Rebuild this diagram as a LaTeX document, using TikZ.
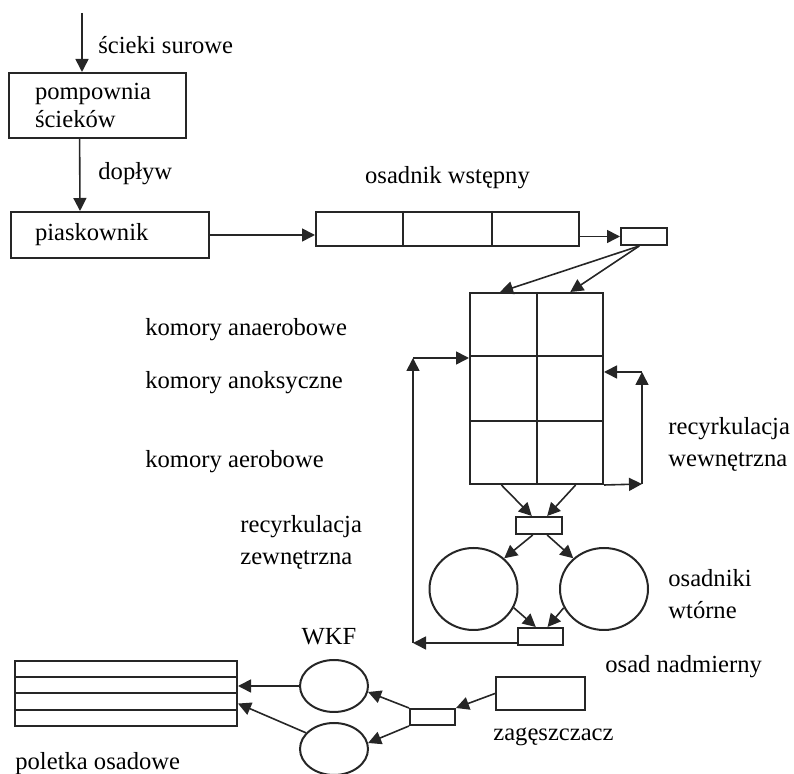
\documentclass[tikz,border=0pt]{standalone}
\usepackage{fontspec}
\setmainfont{Liberation Serif}
\usetikzlibrary{shapes.geometric, arrows.meta, positioning, calc}

\begin{document}
\begin{tikzpicture}[x=0.5pt, y=-0.5pt, every node/.style={font=\fontsize{12.3}{14}\selectfont}]
\tikzstyle{box} = [rectangle, draw=black!85, line width=1pt, inner sep=0pt]
\tikzstyle{smallbox} = [box, minimum width=23pt, minimum height=8.5pt]
\tikzstyle{tank} = [ellipse, draw=black!85, line width=1pt, inner sep=0pt]
\tikzstyle{txt} = [anchor=west, align=left, inner sep=0pt]
\tikzstyle{arrow} = [draw=black!85, line width=0.8pt, -{Triangle[length=6.5pt, width=6.5pt]}]
\tikzstyle{divider} = [draw=black!85, line width=1pt]

\useasboundingbox (0,0) rectangle (794,774);

% Top part - inflow, pumping station, grit chamber
\coordinate (in) at (82,13);
\node (pomp) [box, minimum width=88.5pt, minimum height=32.5pt, text width=62.5pt, inner xsep=13pt, align=left] at (97.5,105.5) {pompownia\\ścieków};
\node (pias) [box, minimum width=99pt, minimum height=23pt, text width=75pt, inner xsep=12pt, align=left] at (110,235) {piaskownik};
\node (raw) [txt] at (98,45) {ścieki surowe};
\node (inflow) [txt] at (98,174) {dopływ};

% Primary settler
\node (osad) [box, minimum width=131.5pt, minimum height=17pt] at (447.5,229) {};
\foreach \f in {1/3,2/3}
  \draw [divider] ($(osad.north west)!\f!(osad.north east)$) -- ($(osad.south west)!\f!(osad.south east)$);
\node (osadlab) [inner sep=0pt, above=11pt of osad] {osadnik wstępny};
\node (sbox1) [smallbox] at (644,236.5) {};

% Bioreactor chambers
\node (grid) [box, minimum width=66.5pt, minimum height=95.5pt] at (536.5,388.5) {};
\draw [divider] (grid.north) -- (grid.south);
\foreach \f in {1/3,2/3}
  \draw [divider] ($(grid.north west)!\f!(grid.south west)$) -- ($(grid.north east)!\f!(grid.south east)$);
\node (anaer) [txt] at (145,330) {komory anaerobowe};
\node (anox) [txt] at (145,383) {komory anoksyczne};
\node (aer) [txt] at (145,462) {komory aerobowe};
\coordinate (ri1) at (642,484);
\coordinate (ri2) at (642,372);
\node (intrec) [txt] at (668,444) {recyrkulacja\\[2pt]wewnętrzna};

% Secondary settlers
\node (sbox2) [smallbox] at (539,525.5) {};
\node (ellL) [tank, minimum width=44pt, minimum height=41pt] at (473.5,589) {};
\node (ellR) [tank, minimum width=44pt, minimum height=41pt] at (604,589) {};
\node (sbox3) [smallbox, minimum width=22.5pt] at (540.5,636.5) {};
\node (sec) [txt] at (668,594) {osadniki\\[2pt]wtórne};
\coordinate (re1) at (413,643);
\coordinate (re2) at (413,358);
\node (extrec) [txt] at (240,542) {recyrkulacja\\[2pt]zewnętrzna};

% Sludge line
\node (excess) [txt] at (605,667) {osad nadmierny};
\node (zag) [box, minimum width=44.5pt, minimum height=16.5pt] at (540.5,693.5) {};
\node (zaglab) [txt] at (493,737) {zagęszczacz};
\node (sbox4) [smallbox, minimum width=22.5pt, minimum height=8pt] at (432.5,717) {};
\node (wkf1) [tank, minimum width=34pt, minimum height=26pt] at (334,686) {};
\node (wkf2) [tank, minimum width=34pt, minimum height=26pt] at (334,749) {};
\node (wkflab) [inner sep=0pt] at (329,637) {WKF};
\node (pol) [box, minimum width=111pt, minimum height=32.5pt] at (126,693.5) {};
\foreach \f in {1/4,2/4,3/4}
  \draw [divider] ($(pol.north west)!\f!(pol.south west)$) -- ($(pol.north east)!\f!(pol.south east)$);
\node (pollab) [txt] at (15,764) {poletka osadowe};

% Arrows - main line
\draw [arrow] (in) -- (in |- pomp.north);
\draw [arrow] ($(pomp.south west)!0.4!(pomp.south east)$) -- ($(pias.north west)!0.35!(pias.north east)$);
\draw [arrow] (pias.east) -- (pias.east -| osad.west);
\draw [arrow] (osad.east |- sbox1.west) -- (sbox1.west);
\draw [arrow] ($(sbox1.south west)!0.4!(sbox1.south east)$) -- ($(grid.north west)!0.23!(grid.north east)$);
\draw [arrow] ($(sbox1.south west)!0.4!(sbox1.south east)$) -- ($(grid.north west)!0.75!(grid.north east)$);

% Internal recirculation
\draw [arrow] (grid.south east) -- (ri1);
\draw [arrow] (ri1) -- (ri2);
\draw [arrow] (ri2) -- (ri2 -| grid.east);

% To secondary settlers
\draw [arrow] ($(grid.south west)!0.24!(grid.south east)$) -- ($(sbox2.north west)!0.35!(sbox2.north east)$);
\draw [arrow] ($(grid.south west)!0.79!(grid.south east)$) -- ($(sbox2.north west)!0.67!(sbox2.north east)$);
\draw [arrow] ($(sbox2.south west)!0.37!(sbox2.south east)$) -- (ellL.45);
\draw [arrow] ($(sbox2.south west)!0.67!(sbox2.south east)$) -- (ellR.135);
\draw [arrow] (ellL.-25) -- ($(sbox3.north west)!0.4!(sbox3.north east)$);
\draw [arrow] (ellR.-155) -- ($(sbox3.north west)!0.65!(sbox3.north east)$);

% External recirculation
\draw [arrow] (re1 -| sbox3.west) -- (re1);
\draw [arrow] (re1) -- (re2);
\draw [arrow] (re2) -- (re2 -| grid.west);

% Sludge treatment
\draw [arrow] (zag.west) -- (sbox4.north east);
\draw [arrow] (sbox4.north west) -- (wkf1.-10);
\draw [arrow] (sbox4.south west) -- (wkf2.10);
\draw [arrow] (wkf1.west) -- (wkf1.west -| pol.east);
\draw [arrow] (wkf2.150) -- ($(pol.north east)!0.65!(pol.south east)$);

\end{tikzpicture}
\end{document}
